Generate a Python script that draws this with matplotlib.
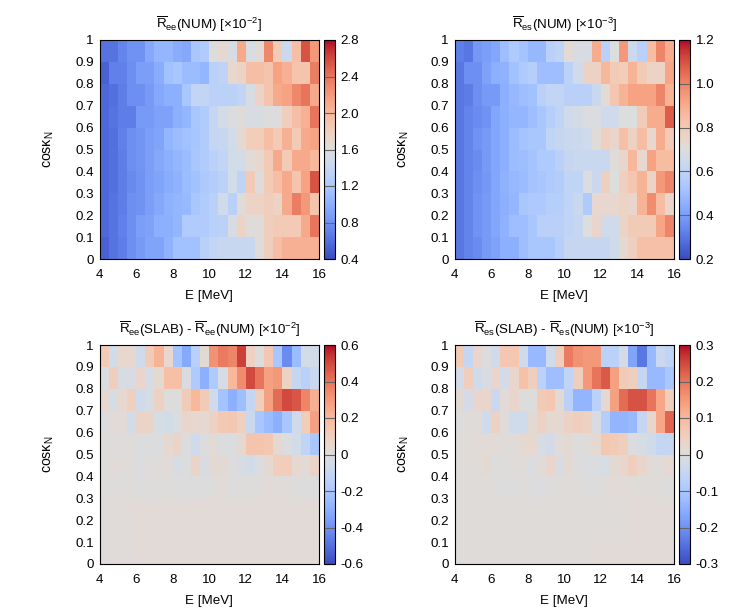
# -*- coding: utf-8 -*-
import matplotlib
matplotlib.use('Agg')
import matplotlib.pyplot as plt
import numpy as np

plt.rcParams['font.family'] = ['Liberation Sans', 'DejaVu Sans']
plt.rcParams['mathtext.fontset'] = 'custom'
plt.rcParams['mathtext.rm'] = 'Liberation Sans'
plt.rcParams['mathtext.it'] = 'Liberation Sans'
plt.rcParams['mathtext.default'] = 'regular'
plt.rcParams['axes.unicode_minus'] = False
plt.rcParams['font.size'] = 9.6

# bin edges
E_edges = np.linspace(4, 16, 25)
cos_edges = np.linspace(0, 1, 11)

# rows listed from cos = 1 (top) down to cos = 0
Ree_num = [
    [.62,.62,.72,.80,.80,.95,1.05,1.05,.98,.95,1.20,1.25,1.60,1.68,1.55,2.10,1.55,1.65,2.30,1.85,1.45,1.95,2.55,2.20],
    [.52,.70,.70,.78,.88,.88,.98,1.15,1.20,1.10,1.10,1.05,1.30,1.35,1.70,1.75,1.95,1.95,1.90,2.15,2.05,1.90,1.90,2.35],
    [.55,.60,.68,.78,.78,.85,.95,1.00,1.00,1.20,1.38,1.38,1.32,1.32,1.32,1.38,1.55,1.75,1.90,2.10,2.15,2.30,2.40,2.10],
    [.55,.62,.68,.68,.85,.85,.90,.90,1.00,1.05,1.20,1.25,1.40,1.50,1.58,1.62,1.55,1.55,1.60,1.60,1.80,1.95,2.05,2.40],
    [.55,.60,.70,.78,.82,.88,.92,1.05,1.10,1.15,1.18,1.25,1.40,1.42,1.50,1.68,1.82,1.82,1.95,1.85,2.05,1.85,2.10,2.15],
    [.55,.60,.68,.78,.82,.88,.95,1.00,1.05,1.10,1.20,1.25,1.32,1.38,1.50,1.50,1.65,1.70,1.85,2.10,1.85,2.10,2.10,2.00],
    [.55,.60,.68,.75,.80,.88,.92,.98,1.02,1.10,1.15,1.22,1.28,1.32,1.50,1.35,1.85,1.60,1.85,1.95,2.10,1.90,2.15,2.55],
    [.55,.62,.68,.78,.80,.88,.95,1.02,1.05,1.08,1.20,1.25,1.30,1.48,1.30,1.62,1.75,1.75,1.80,1.75,2.10,2.35,2.20,1.90],
    [.55,.62,.70,.78,.88,.90,1.00,1.00,1.05,1.25,1.25,1.25,1.30,1.32,1.55,1.75,1.62,1.62,1.80,1.85,1.85,1.85,2.10,2.40],
    [.52,.62,.68,.78,.85,.92,.92,1.02,1.15,1.15,1.15,1.30,1.38,1.42,1.42,1.42,1.42,1.62,1.80,1.95,2.05,2.05,2.05,2.05],
]
Res_num = [
    [.32,.30,.38,.40,.42,.50,.55,.52,.48,.48,.58,.60,.72,.68,.68,.90,.58,.70,.95,.64,.58,.85,1.00,.90],
    [.30,.36,.36,.41,.45,.46,.51,.55,.57,.50,.50,.50,.59,.65,.77,.77,.87,.80,.79,.88,.80,.76,.76,.92],
    [.30,.31,.36,.39,.39,.45,.48,.50,.51,.58,.61,.61,.58,.58,.58,.63,.72,.82,.88,.93,.93,.93,1.00,.88],
    [.30,.33,.35,.37,.42,.45,.47,.47,.50,.53,.57,.60,.65,.67,.69,.69,.65,.65,.70,.70,.80,.90,.90,1.08],
    [.30,.33,.37,.39,.42,.45,.49,.52,.53,.53,.60,.62,.63,.64,.65,.71,.78,.75,.84,.77,.85,.74,.90,.80],
    [.30,.33,.35,.39,.42,.45,.49,.50,.52,.55,.55,.58,.62,.63,.63,.63,.63,.71,.75,.87,.74,.93,.85,.85],
    [.30,.33,.36,.38,.42,.46,.48,.49,.52,.53,.55,.56,.60,.60,.69,.63,.78,.70,.78,.82,.88,.76,.95,1.00],
    [.30,.33,.37,.39,.42,.45,.47,.53,.54,.54,.57,.57,.60,.63,.55,.74,.74,.74,.76,.75,.88,.98,.85,.75],
    [.30,.33,.37,.39,.42,.46,.50,.50,.53,.58,.58,.58,.60,.62,.70,.75,.65,.65,.76,.80,.80,.80,.92,1.00],
    [.30,.33,.35,.39,.41,.45,.45,.50,.53,.53,.53,.57,.62,.62,.62,.62,.62,.65,.73,.78,.84,.84,.84,.84],
]
Ree_diff = [
    [.12,-.05,.05,.05,-.06,.12,.22,.05,-.22,-.32,-.15,.03,.32,.38,.36,.52,.08,.00,.14,-.20,-.42,-.25,-.05,-.05],
    [-.01,.10,-.02,-.02,.06,-.03,.04,.17,.17,-.02,-.18,-.30,-.18,-.03,.20,.34,.50,.40,.28,.30,.08,-.10,-.15,-.08],
    [.04,-.03,.05,.09,-.06,-.03,.08,.00,.00,.12,.20,.12,-.06,-.22,-.30,-.24,-.10,.10,.28,.42,.50,.47,.36,.23],
    [-.01,.02,.02,-.05,.07,.07,-.03,-.05,-.01,.06,.05,.04,.08,.13,.14,.09,-.08,-.20,-.25,-.30,-.20,-.06,.11,.28],
    [.005,.005,.005,.01,-.005,-.005,-.005,.04,.07,-.01,-.06,-.005,.03,-.005,-.005,.04,.15,.15,.14,.04,-.01,-.05,-.12,-.20],
    [.00,.02,.01,.01,-.01,.01,.01,.02,-.03,.00,.07,-.02,.03,.03,.00,-.02,-.05,-.01,.04,.11,.11,.04,.02,.07],
    [.005,.005,.005,.005,.00,.005,.00,.005,.005,.00,.00,.00,.005,.02,.00,.00,.005,.005,.02,.01,.01,.005,.00,.00],
    [.015,.015,.015,.015,.02,.02,.02,.02,.02,.02,.02,.02,.02,.02,.02,.02,.02,.02,.02,.02,.02,.02,.02,.02],
    [.015,.015,.015,.015,.02,.02,.02,.02,.02,.02,.02,.02,.02,.02,.02,.02,.02,.02,.02,.02,.02,.02,.02,.02],
    [.015,.015,.015,.015,.02,.02,.02,.02,.02,.02,.02,.02,.02,.02,.02,.02,.02,.02,.02,.02,.02,.02,.02,.02],
]
Res_diff = [
    [.06,-.05,.03,.00,-.03,.07,.07,-.03,-.13,-.13,-.03,.05,.19,.16,.15,.15,-.07,-.07,-.02,-.17,-.24,-.13,-.04,-.06],
    [-.02,.05,-.03,-.01,.03,-.02,.03,.08,.05,-.07,-.12,-.12,-.06,.05,.15,.20,.23,.14,.06,.05,-.05,-.13,-.13,-.10],
    [.015,-.02,.03,.03,-.04,.01,.03,.00,.00,.06,.07,.015,-.07,-.14,-.14,-.07,.02,.14,.21,.24,.24,.20,.13,.05],
    [.00,.005,.005,-.03,.04,.005,-.03,-.03,.015,.04,.02,.02,.04,.05,.04,-.01,-.08,-.14,-.14,-.13,-.05,.03,.13,.22],
    [.005,.005,.01,.01,.01,.005,.005,.02,.025,-.015,-.02,.008,.015,.00,.005,.02,.07,.06,.05,-.005,-.015,-.03,-.05,-.05],
    [.005,.005,.005,.015,.00,.005,.005,.005,-.005,.01,.03,-.01,.015,.00,-.005,-.005,-.015,.015,.03,.05,.03,.005,.005,.02],
    [.005,.005,.005,.005,.003,.00,.00,.003,.00,-.005,.003,.003,.005,.003,.00,.00,.005,.01,.01,.005,.005,.005,.005,.00],
    [.005,.005,.005,.005,.005,.005,.005,.005,.005,.005,.005,.005,.005,.005,.005,.005,.005,.005,.005,.01,.01,.01,.01,.01],
    [.005,.005,.005,.005,.005,.005,.005,.005,.005,.005,.005,.005,.005,.005,.005,.005,.005,.005,.005,.01,.01,.01,.01,.01],
    [.005,.005,.005,.005,.005,.005,.005,.005,.005,.005,.005,.005,.005,.005,.005,.01,.01,.01,.01,.01,.01,.01,.01,.01],
]

titles = [r'$\overline{R}_{ee}$(NUM) [$\times$10$^{-2}$]',
          r'$\overline{R}_{es}$(NUM) [$\times$10$^{-3}$]',
          r'$\overline{R}_{ee}$(SLAB) - $\overline{R}_{ee}$(NUM) [$\times$10$^{-2}$]',
          r'$\overline{R}_{es}$(SLAB) - $\overline{R}_{es}$(NUM) [$\times$10$^{-3}$]']
panels = [Ree_num, Res_num, Ree_diff, Res_diff]
limits = [(0.4, 2.8), (0.2, 1.2), (-0.6, 0.6), (-0.3, 0.3)]
cb_ticks = [[0.4, 0.8, 1.2, 1.6, 2.0, 2.4, 2.8],
            [0.2, 0.4, 0.6, 0.8, 1.0, 1.2],
            [-0.6, -0.4, -0.2, 0, 0.2, 0.4, 0.6],
            [-0.3, -0.2, -0.1, 0, 0.1, 0.2, 0.3]]
cb_labels = [['0.4', '0.8', '1.2', '1.6', '2.0', '2.4', '2.8'],
             ['0.2', '0.4', '0.6', '0.8', '1.0', '1.2'],
             ['-0.6', '-0.4', '-0.2', '0', '0.2', '0.4', '0.6'],
             ['-0.3', '-0.2', '-0.1', '0', '0.1', '0.2', '0.3']]
cos_ticks = np.arange(0, 11) / 10
cos_labels = ['0', '0.1', '0.2', '0.3', '0.4', '0.5', '0.6', '0.7', '0.8', '0.9', '1']

W, H = 747, 609
fig = plt.figure(figsize=(W / 100, H / 100), dpi=100)

# pixel positions of the panels (left, top)
corners = [(99.5, 40), (454.5, 40), (99.5, 345), (454.5, 345)]
for i in range(4):
    left, top = corners[i]
    ax = fig.add_axes([left / W, 1 - (top + 219) / H, 219.5 / W, 219 / H])
    cax = fig.add_axes([(left + 224.5) / W, 1 - (top + 219) / H, 11 / W, 219 / H])
    vals = np.array(panels[i])[::-1]
    pm = ax.pcolormesh(E_edges, cos_edges, vals, cmap='coolwarm',
                       vmin=limits[i][0], vmax=limits[i][1],
                       edgecolors='none', antialiased=False)
    ax.set_xticks(np.arange(4, 17, 2))
    ax.set_yticks(cos_ticks)
    ax.set_yticklabels(cos_labels)
    ax.tick_params(length=0, pad=4)
    ax.tick_params(axis='x', pad=7)
    ax.set_xlabel('E [MeV]', labelpad=7)
    ax.set_ylabel(r'cos$\kappa_N$', labelpad=14, fontsize=10.2)
    ax.set_title(titles[i], fontsize=9.6, pad=8)

    cb = fig.colorbar(pm, cax=cax)
    cb.set_ticks(cb_ticks[i])
    cb.set_ticklabels(cb_labels[i])
    cb.ax.tick_params(direction='in', length=8, width=0.8, color='#666666', pad=4, labelsize=9.6)
    cb.outline.set_linewidth(0.8)

fig.savefig('out.png', dpi=100)
